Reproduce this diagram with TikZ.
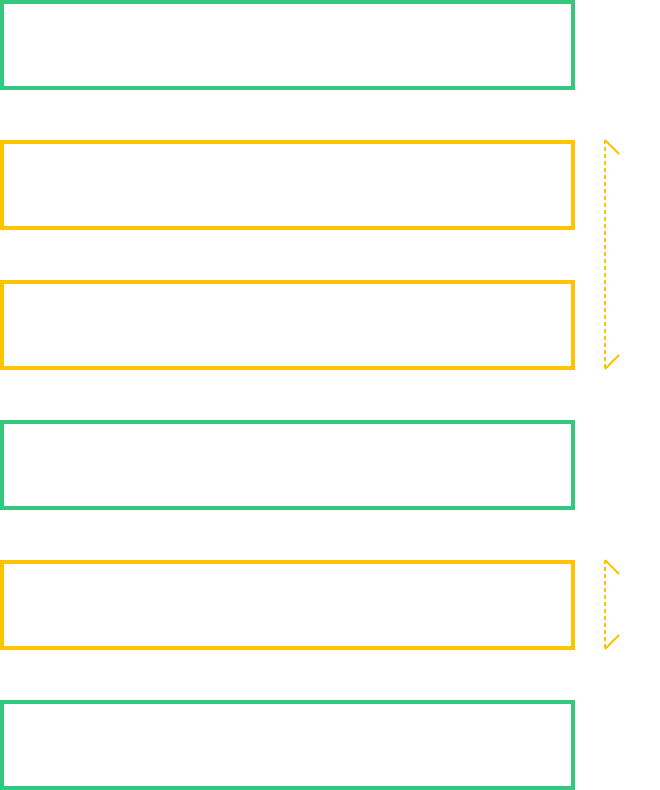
\documentclass[tikz,border=0pt]{standalone}
\usepackage{xcolor}
\definecolor{boxgreen}{HTML}{34C77E}
\definecolor{boxyellow}{HTML}{FFC300}
\begin{document}
\begin{tikzpicture}[%
    x=0.02cm,
    y=-0.02cm,
    greenbox/.style={
      rectangle,
      draw=boxgreen,
      line width=0.08cm,
      minimum width=11.42cm,
      minimum height=1.71cm,
      inner sep=0pt,
      outer sep=0pt
    },
    yellowbox/.style={
      greenbox,
      draw=boxyellow
    },
    rangeline/.style={
      draw=boxyellow,
      line width=0.04cm,
      dash pattern=on 0.08cm off 0.06cm
    },
    rangetick/.style={
      draw=boxyellow,
      line width=0.04cm
    },
  ]
    \useasboundingbox (0,0) rectangle (659,790);
    \node[greenbox] (box1) at (287.5,45) {};
    \node[yellowbox] (box2) at (287.5,185) {};
    \node[yellowbox] (box3) at (287.5,325) {};
    \node[greenbox] (box4) at (287.5,465) {};
    \node[yellowbox] (box5) at (287.5,605) {};
    \node[greenbox] (box6) at (287.5,745) {};
    % ranges on the right
    \coordinate (rangeAtop) at (605,140);
    \coordinate (rangeAbot) at (605,369);
    \coordinate (rangeBtop) at (605,560);
    \coordinate (rangeBbot) at (605,649);
    \draw[rangeline] (rangeAtop) -- (rangeAbot);
    \draw[rangetick] (rangeAtop) -- ++(14,14);
    \draw[rangetick] (rangeAbot) -- ++(14,-14);
    \draw[rangeline] (rangeBtop) -- (rangeBbot);
    \draw[rangetick] (rangeBtop) -- ++(14,14);
    \draw[rangetick] (rangeBbot) -- ++(14,-14);
\end{tikzpicture}
\end{document}
